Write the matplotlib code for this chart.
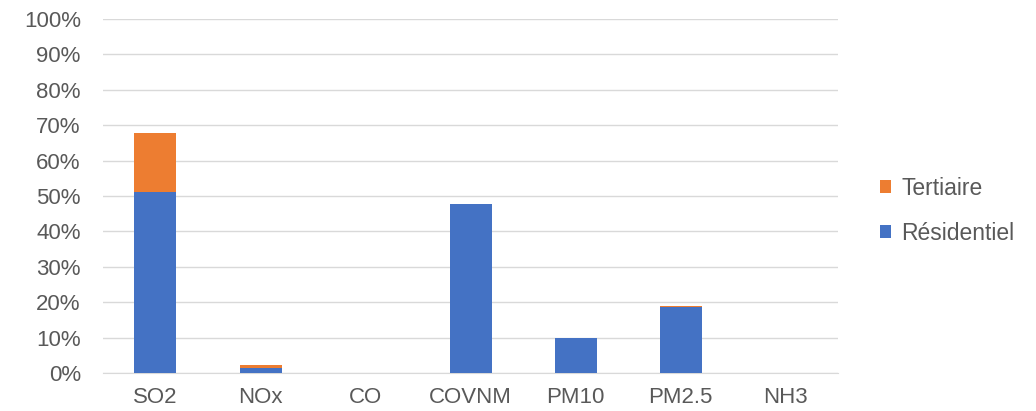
import numpy as np
import matplotlib.pyplot as plt
from matplotlib.ticker import PercentFormatter

plt.rcParams['font.family'] = ['Liberation Sans', 'DejaVu Sans']

categories = ['SO2', 'NOx', 'CO', 'COVNM', 'PM10', 'PM2.5', 'NH3']
residentiel = [51.1, 1.5, 0.0, 47.7, 9.8, 18.6, 0.0]
tertiaire = [16.7, 0.7, 0.0, 0.0, 0.2, 0.2, 0.0]

grey = '#595959'
fig = plt.figure(figsize=(10.36, 4.11), dpi=100)
ax = fig.add_axes([0.0994, 0.0925, 0.7096, 0.8615])

x = np.arange(len(categories))
b1 = ax.bar(x, residentiel, width=0.4, color='#4472C4', label='Résidentiel', zorder=3)
b2 = ax.bar(x, tertiaire, width=0.4, bottom=residentiel, color='#ED7D31',
            label='Tertiaire', zorder=3)

ax.set_xlim(-0.5, len(categories) - 0.5)
ax.set_ylim(0, 100)
ax.set_yticks(np.arange(0, 101, 10))
ax.yaxis.set_major_formatter(PercentFormatter(decimals=0))
ax.set_xticks(x)
ax.set_xticklabels(categories)
ax.grid(axis='y', color='#d9d9d9', linewidth=1, zorder=0)
for s in ['top', 'right', 'left']:
    ax.spines[s].set_visible(False)
ax.spines['bottom'].set_color('#d9d9d9')
ax.tick_params(length=0, labelsize=16, colors=grey)
ax.tick_params(axis='x', pad=10)
ax.tick_params(axis='y', pad=16)

leg = fig.legend(handles=[b2, b1], loc='center left', bbox_to_anchor=(0.849, 0.487),
                 frameon=False, fontsize=16.5, handlelength=0.5, handleheight=0.5,
                 handletextpad=0.45, labelspacing=0.95, borderpad=0, borderaxespad=0)
for t in leg.get_texts():
    t.set_color(grey)

fig.savefig('out.png', dpi=100)
